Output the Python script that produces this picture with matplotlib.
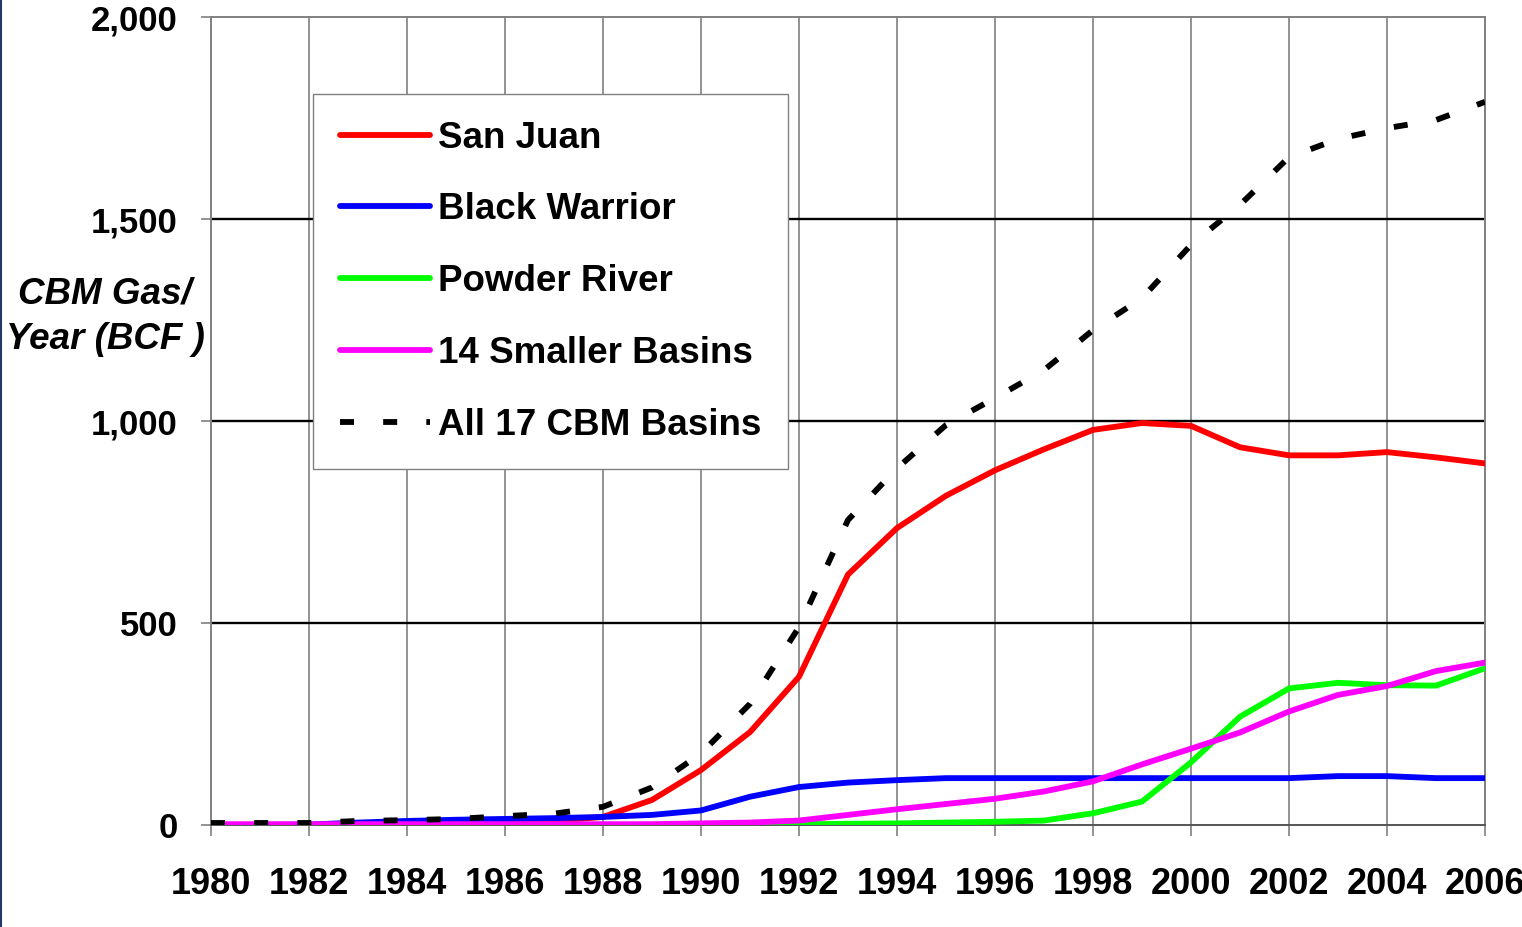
import matplotlib.pyplot as plt
from matplotlib.lines import Line2D

plt.rcParams['font.family'] = ['Liberation Sans', 'DejaVu Sans']
plt.rcParams['font.weight'] = 'bold'

years = list(range(1980, 2007))

san_juan = [0, 0, 0, 2, 4, 6, 8, 10, 20, 62, 136, 230, 367, 620, 735, 815, 878,
            930, 978, 995, 988, 935, 915, 915, 923, 910, 895]
black_warrior = [0, 0, 1, 6, 10, 13, 15, 17, 20, 25, 36, 70, 94, 105, 111, 116, 116,
                 116, 116, 116, 116, 116, 116, 121, 121, 116, 116]
powder_river = [0] * 12 + [2, 3, 4, 6, 8, 11, 29, 58, 155, 268, 338, 352, 346, 345, 388]
smaller_basins = [2] * 10 + [4, 6, 11, 25, 39, 52, 65, 83, 108, 150, 189, 229, 281,
                             322, 344, 381, 402]
all_basins = [5, 5, 5, 10, 12, 15, 22, 28, 45, 93, 177, 300, 490, 755, 883, 990, 1057,
              1126, 1225, 1304, 1436, 1535, 1653, 1698, 1725, 1745, 1790]

labels = ['San Juan', 'Black Warrior', 'Powder River', '14 Smaller Basins', 'All 17 CBM Basins']
colors = ['#FF0000', '#0000FF', '#00FF00', '#FF00FF', '#000000']

fig = plt.figure(figsize=(15.22, 9.27), dpi=100)
ax = fig.add_axes([211 / 1522, 1 - 825 / 927, 1274 / 1522, 808 / 927])

lw = 4.2
series = [san_juan, black_warrior, powder_river, smaller_basins]
for vals, lab, col in zip(series, labels[:4], colors[:4]):
    ax.plot(years, vals, color=col, lw=lw, label=lab, solid_capstyle='round',
            solid_joinstyle='miter', zorder=3)
ax.plot(years, all_basins, color='black', lw=lw, linestyle=(0, (2.4, 5.0)),
        label=labels[4], zorder=4)

ax.set_xlim(1980, 2006)
ax.set_ylim(0, 2000)
ax.set_xticks(range(1980, 2007, 2))
ax.set_yticks([0, 500, 1000, 1500, 2000])
ax.set_yticklabels(['0', '500', '1,000', '1,500', '2,000'])

for x in range(1982, 2006, 2):
    ax.axvline(x, color='#808080', lw=1.2, zorder=1)
for y in [500, 1000, 1500]:
    ax.axhline(y, color='black', lw=1.7, zorder=1)

for s in ax.spines.values():
    s.set_color('#808080')
    s.set_linewidth(1.4)
ax.spines['bottom'].set_color('#555555')

ax.tick_params(axis='x', length=8, width=1.2, color='#808080', pad=22, labelsize=26)
ax.tick_params(axis='y', length=7, width=1.2, color='#808080', pad=17, labelsize=25)

fig.text(105 / 1522, 1 - 317 / 927, 'CBM Gas/\nYear (BCF )', ha='center', va='center',
         fontsize=26.5, fontweight='bold', fontstyle='italic', linespacing=1.38)

leg = ax.legend(loc='upper left', bbox_to_anchor=(313 / 1522, 1 - 94 / 927),
                bbox_transform=fig.transFigure, fontsize=26.5, frameon=True,
                fancybox=False, edgecolor='#808080', framealpha=1,
                handlelength=2.45, handletextpad=0.22, borderpad=0.72,
                labelspacing=1.0, borderaxespad=0)
leg.get_frame().set_linewidth(1.0)
leg.set_zorder(5)

fig.add_artist(Line2D([0.0008, 0.0008], [0, 1], transform=fig.transFigure,
                      color='#1F3864', lw=1.5))

fig.savefig('out.png', dpi=100)
